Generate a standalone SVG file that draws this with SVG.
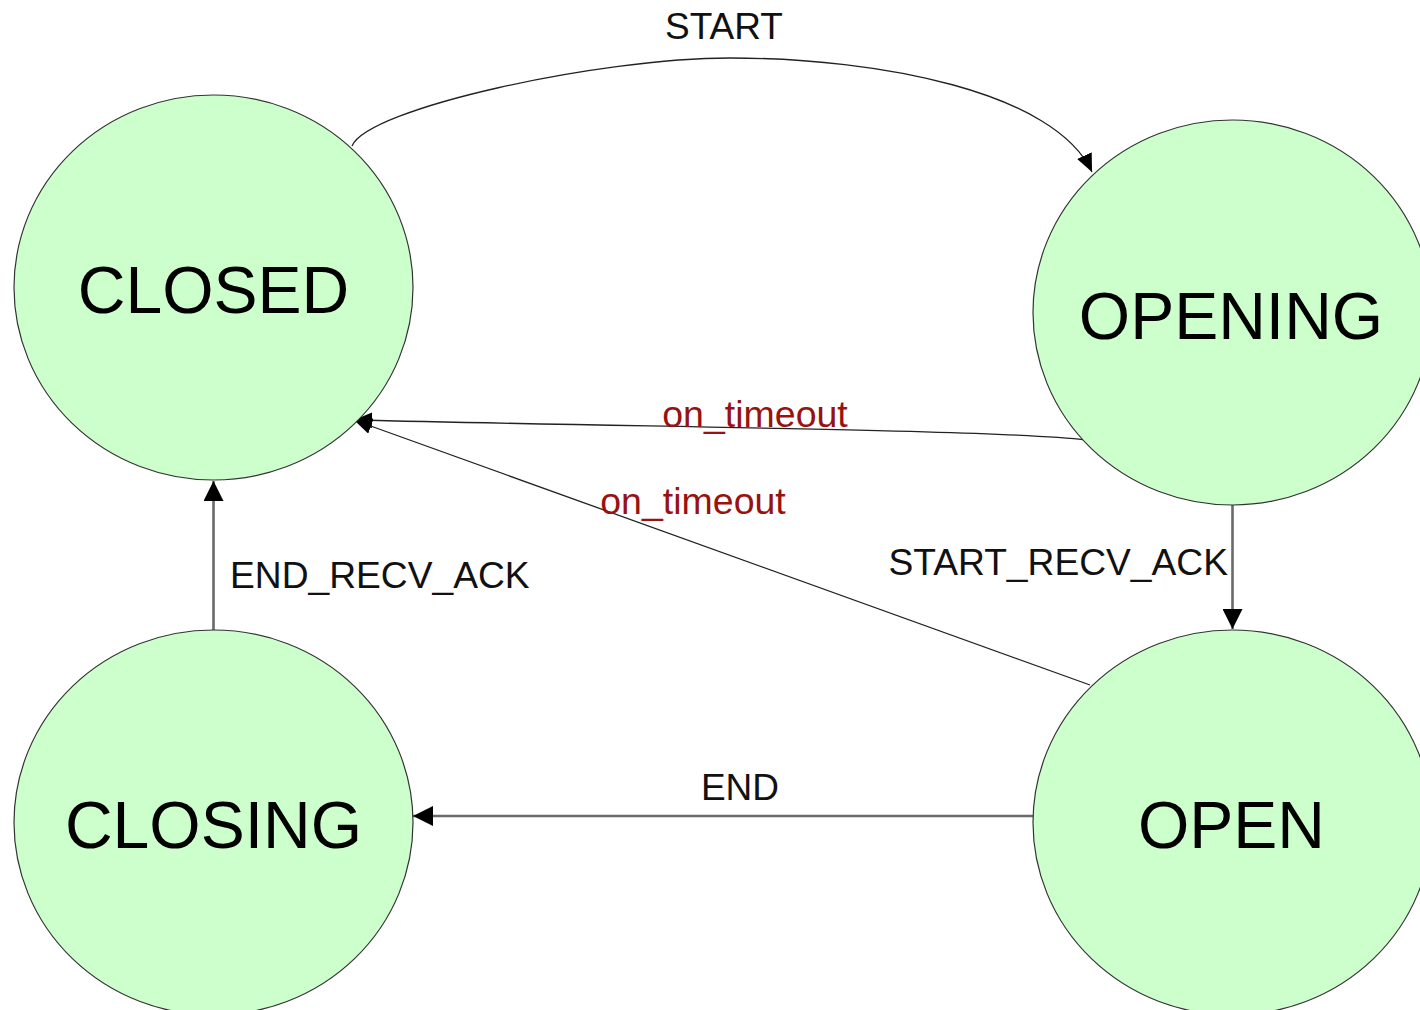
<svg xmlns="http://www.w3.org/2000/svg" width="1420" height="1010" viewBox="0 0 1420 1010">
  <style>
    .state { fill: #ccffcc; stroke: #333333; stroke-width: 1.2; }
    .state-label { font-family: "Liberation Sans", Arial, sans-serif; font-size: 66px; fill: #000000; text-anchor: middle; }
    .edge-thin { fill: none; stroke: #222222; stroke-width: 1.3; }
    .edge-thick { fill: none; stroke: #6a6a6a; stroke-width: 2.6; }
    .edge-label { font-family: "Liberation Sans", Arial, sans-serif; font-size: 37px; fill: #111111; }
    .edge-label-long { font-family: "Liberation Sans", Arial, sans-serif; font-size: 37.2px; fill: #111111; }
    .timeout-label { font-family: "Liberation Sans", Arial, sans-serif; font-size: 37.5px; fill: #991111; }
  </style>
  <defs>
    <marker id="arrow" viewBox="0 0 20 20" refX="20" refY="10" markerWidth="20" markerHeight="20" markerUnits="userSpaceOnUse" orient="auto">
      <path d="M0,0 L20,10 L0,20 z" fill="#000000"/>
    </marker>
    <marker id="arrow-small" viewBox="0 0 18 16" refX="18" refY="8" markerWidth="18" markerHeight="16" markerUnits="userSpaceOnUse" orient="auto">
      <path d="M0,0 L18,8 L0,16 z" fill="#000000"/>
    </marker>
  </defs>

  <rect x="0" y="0" width="1420" height="1010" fill="#ffffff"/>

  <!-- transitions -->
  <g id="connectors">
    <!-- CLOSED -> OPENING -->
    <path class="edge-thin" d="M352,146 C368,108 600,58 730,58 C880,58 1055,92 1092,172" marker-end="url(#arrow-small)"/>
    <!-- OPENING -> CLOSED (timeout) -->
    <path class="edge-thin" d="M1087,440 C1000,430 700,428 354,420" marker-end="url(#arrow-small)"/>
    <!-- OPEN -> CLOSED (timeout) -->
    <path class="edge-thin" d="M1090,685 L354,420" marker-end="url(#arrow-small)"/>
    <!-- OPENING -> OPEN -->
    <path class="edge-thick" d="M1232.5,505 L1232.5,629" marker-end="url(#arrow)"/>
    <!-- CLOSING -> CLOSED -->
    <path class="edge-thick" d="M213.5,630 L213.5,481" marker-end="url(#arrow)"/>
    <!-- OPEN -> CLOSING -->
    <path class="edge-thick" d="M1033,816 L413,816" marker-end="url(#arrow)"/>

    <text class="edge-label" x="724" y="39" text-anchor="middle">START</text>
    <text class="timeout-label" x="755" y="427" text-anchor="middle">on_timeout</text>
    <text class="timeout-label" x="693" y="514" text-anchor="middle">on_timeout</text>
    <text class="edge-label-long" x="1228" y="575" text-anchor="end">START_RECV_ACK</text>
    <text class="edge-label-long" x="230" y="588">END_RECV_ACK</text>
    <text class="edge-label" x="740" y="800" text-anchor="middle">END</text>
  </g>

  <!-- states -->
  <g id="closed">
    <ellipse class="state" cx="213.5" cy="287.5" rx="199.5" ry="192.5"/>
    <text class="state-label" x="213.5" y="313">CLOSED</text>
  </g>
  <g id="opening">
    <ellipse class="state" cx="1232.5" cy="312.5" rx="199.5" ry="192.5"/>
    <text class="state-label" x="1231" y="339">OPENING</text>
  </g>
  <g id="closing">
    <ellipse class="state" cx="213.5" cy="822.5" rx="199.5" ry="192.5"/>
    <text class="state-label" x="213.5" y="848">CLOSING</text>
  </g>
  <g id="open">
    <ellipse class="state" cx="1232.5" cy="822.5" rx="199.5" ry="192.5"/>
    <text class="state-label" x="1231.5" y="848">OPEN</text>
  </g>
</svg>
